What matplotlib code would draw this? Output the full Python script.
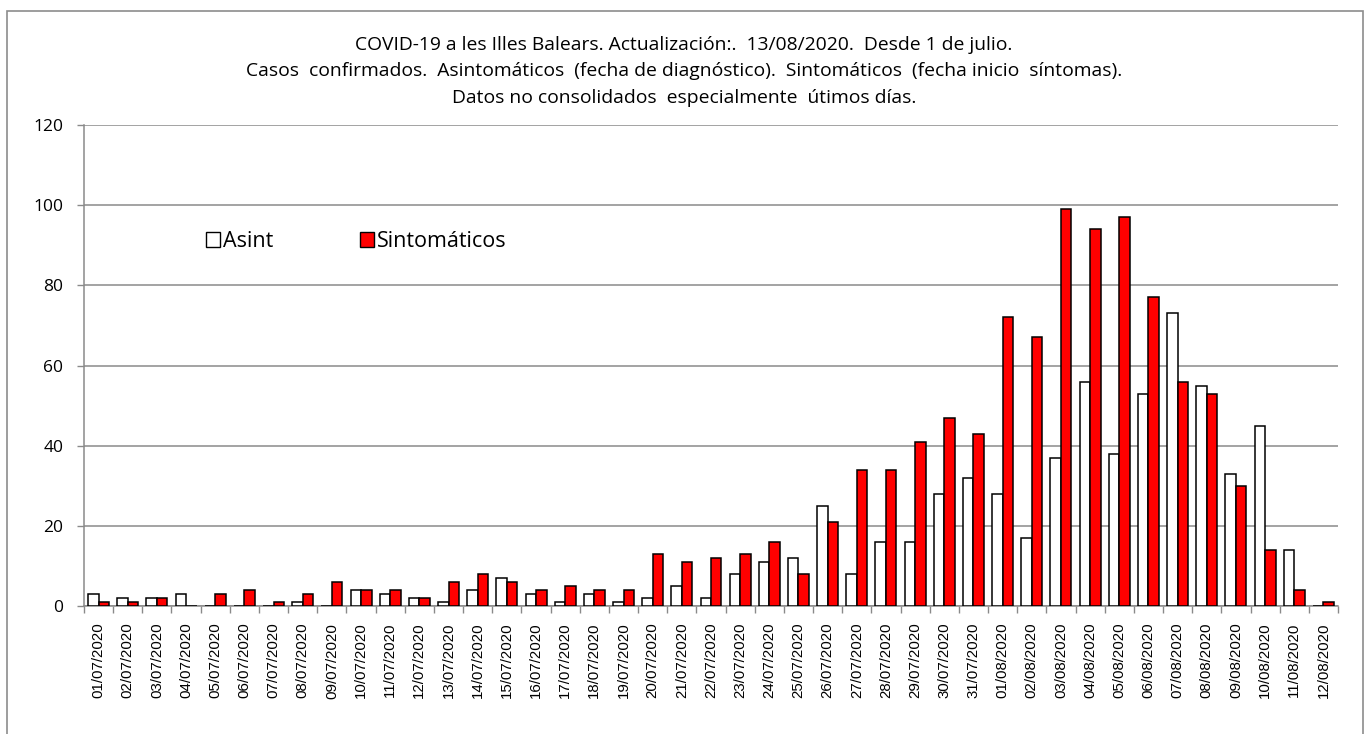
import matplotlib
matplotlib.use("Agg")
import matplotlib.pyplot as plt
from matplotlib.patches import Patch, Rectangle
import numpy as np

dates = ["01/07/2020", "02/07/2020", "03/07/2020", "04/07/2020", "05/07/2020", "06/07/2020",
         "07/07/2020", "08/07/2020", "09/07/2020", "10/07/2020", "11/07/2020", "12/07/2020",
         "13/07/2020", "14/07/2020", "15/07/2020", "16/07/2020", "17/07/2020", "18/07/2020",
         "19/07/2020", "20/07/2020", "21/07/2020", "22/07/2020", "23/07/2020", "24/07/2020",
         "25/07/2020", "26/07/2020", "27/07/2020", "28/07/2020", "29/07/2020", "30/07/2020",
         "31/07/2020", "01/08/2020", "02/08/2020", "03/08/2020", "04/08/2020", "05/08/2020",
         "06/08/2020", "07/08/2020", "08/08/2020", "09/08/2020", "10/08/2020", "11/08/2020",
         "12/08/2020"]
asint = [3, 2, 2, 3, 0, 0, 0, 1, 0, 4, 3, 2, 1, 4, 7, 3, 1, 3, 1, 2, 5, 2, 8, 11,
         12, 25, 8, 16, 16, 28, 32, 28, 17, 37, 56, 38, 53, 73, 55, 33, 45, 14, 0]
sintom = [1, 1, 2, 0, 3, 4, 1, 3, 6, 4, 4, 2, 6, 8, 6, 4, 5, 4, 4, 13, 11, 12, 13, 16,
          8, 21, 34, 34, 41, 47, 43, 72, 67, 99, 94, 97, 77, 56, 53, 30, 14, 4, 1]
series_names = ["Asint", "Sintomáticos"]
yticks = [0, 20, 40, 60, 80, 100, 120]
title_lines = ["COVID-19 a les Illes Balears. Actualización:.  13/08/2020.  Desde 1 de julio.",
               "Casos  confirmados.  Asintomáticos  (fecha de diagnóstico).  Sintomáticos  (fecha inicio  síntomas).",
               "Datos no consolidados  especialmente  útimos días."]

W, H = 1368, 734
fig = plt.figure(figsize=(W / 100, H / 100), dpi=100)
fig.patch.set_facecolor("white")

# outer border
fig.patches.append(Rectangle((7 / W, -0.01), (1363 - 7) / W, 1 - 11 / H + 0.01,
                             transform=fig.transFigure, fill=False,
                             edgecolor="#8c8c8c", linewidth=1.2))

ax = fig.add_axes([84 / W, 1 - 606 / H, (1338 - 84) / W, (606 - 125) / H])
x = np.arange(len(dates))
bw = 0.36
grid_c = "#8a8a8a"
ax.bar(x - bw / 2, asint, width=bw, color="white", edgecolor="black", linewidth=1.1, zorder=3)
ax.bar(x + bw / 2, sintom, width=bw, color="#ff0000", edgecolor="black", linewidth=1.1, zorder=3)

ax.set_xlim(-0.5, len(dates) - 0.5)
ax.set_ylim(0, 120)
ax.set_yticks(yticks)
ax.set_yticklabels([str(v) for v in yticks], fontfamily="Open Sans", fontsize=12.5)
ax.yaxis.grid(True, color=grid_c, linewidth=1.1, zorder=0)
ax.tick_params(axis="y", length=5, width=1.0, color=grid_c, pad=10)

ax.set_xticks(x)
ax.set_xticklabels(dates, rotation=90, fontfamily="Liberation Sans", fontsize=10.8)
ax.set_xticks(np.arange(-0.5, len(dates), 1), minor=True)
ax.tick_params(axis="x", which="major", length=0, pad=12)
ax.tick_params(axis="x", which="minor", length=5, width=1.0, color=grid_c)

for s in ["top", "right"]:
    ax.spines[s].set_visible(False)
for s in ["left", "bottom"]:
    ax.spines[s].set_color(grid_c)
    ax.spines[s].set_linewidth(1.1)

handles = [Patch(facecolor="white", edgecolor="black", linewidth=1.0),
           Patch(facecolor="#ff0000", edgecolor="black", linewidth=1.0)]
ax.legend(handles, series_names, ncol=2, frameon=False, loc="center left",
          bbox_to_anchor=(0.0975, 0.758), handlelength=0.65, handleheight=0.65,
          handletextpad=0.15, columnspacing=4.0, borderpad=0, borderaxespad=0,
          prop={"family": "Open Sans", "size": 15.5})

baselines = [50, 76, 103]
for line, yy in zip(title_lines, baselines):
    fig.text(0.5, 1 - yy / H, line, ha="center", va="baseline",
             fontfamily="Open Sans", fontsize=13.9)

fig.savefig("out.png", dpi=100)
